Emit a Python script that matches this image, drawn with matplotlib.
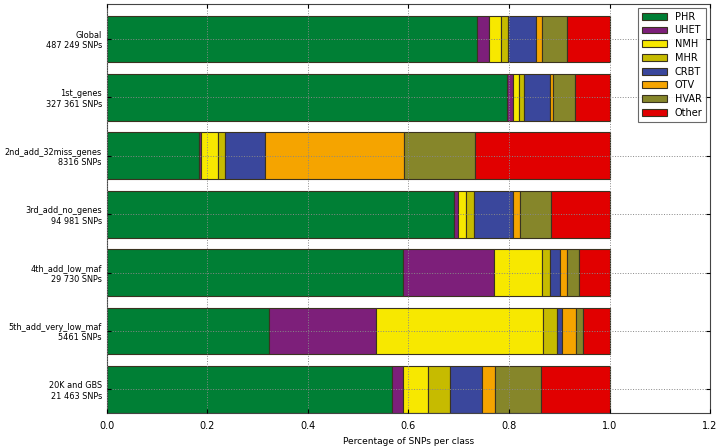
import numpy as np
import matplotlib
matplotlib.use("Agg")
import matplotlib.pyplot as plt

# dataset labels, top to bottom
datasets = ["Global\n487 249 SNPs", "1st_genes\n327 361 SNPs",
            "2nd_add_32miss_genes\n8316 SNPs", "3rd_add_no_genes\n94 981 SNPs",
            "4th_add_low_maf\n29 730 SNPs", "5th_add_very_low_maf\n5461 SNPs",
            "20K and GBS\n21 463 SNPs"]

classes = ["PHR", "UHET", "NMH", "MHR", "CRBT", "OTV", "HVAR", "Other"]

# fraction of SNPs per class, one value per dataset (same order as above)
phr = [0.737, 0.797, 0.183, 0.690, 0.589, 0.322, 0.567]
uhet = [0.024, 0.011, 0.005, 0.009, 0.182, 0.213, 0.022]
nmh = [0.024, 0.012, 0.034, 0.015, 0.095, 0.333, 0.049]
mhr = [0.013, 0.009, 0.014, 0.016, 0.016, 0.027, 0.044]
crbt = [0.055, 0.052, 0.078, 0.079, 0.019, 0.010, 0.064]
otv = [0.012, 0.006, 0.277, 0.012, 0.014, 0.029, 0.026]
hvar = [0.051, 0.044, 0.142, 0.062, 0.024, 0.013, 0.092]
other = [0.084, 0.069, 0.267, 0.117, 0.061, 0.053, 0.136]

colors = ["#007f35", "#7d1f7a", "#f7e800", "#c6bb00",
          "#3a479c", "#f5a400", "#86862a", "#e10000"]

fig = plt.figure(figsize=(7.18, 4.46), dpi=100)
ax = fig.add_axes([0.1486, 0.0747, 0.8404, 0.9163])

n = len(datasets)
ypos = np.arange(n)[::-1]
left = np.zeros(n)
for name, vals, col in zip(classes, [phr, uhet, nmh, mhr, crbt, otv, hvar, other], colors):
    ax.barh(ypos, vals, height=0.8, left=left, align="edge", color=col,
            edgecolor="#3a3320", linewidth=0.8, label=name)
    left += np.array(vals)

ax.set_xlim(0, 1.2)
ax.set_ylim(0, 7)
ax.set_yticks(ypos + 0.4)
ax.set_yticklabels(datasets, fontsize=5.9, ha="right")
ax.set_xticks([0.0, 0.2, 0.4, 0.6, 0.8, 1.0, 1.2])
ax.set_xticklabels(["0.0", "0.2", "0.4", "0.6", "0.8", "1.0", "1.2"], fontsize=7)
ax.set_xlabel("Percentage of SNPs per class", fontsize=6.5)
ax.tick_params(direction="in", length=3, top=True, right=True)
ax.tick_params(axis="y", pad=3.5)
ax.tick_params(axis="x", pad=6)
ax.set_axisbelow(False)
ax.grid(True, color="#888888", linestyle=":", linewidth=0.7)
for s in ax.spines.values():
    s.set_color("#444444")

leg = ax.legend(loc="upper right", fontsize=7, borderaxespad=0.4,
                fancybox=False, handlelength=2.6, labelspacing=0.38)
leg.get_frame().set_edgecolor("#444444")
leg.get_frame().set_linewidth(0.8)

fig.savefig("out.png", dpi=100)
